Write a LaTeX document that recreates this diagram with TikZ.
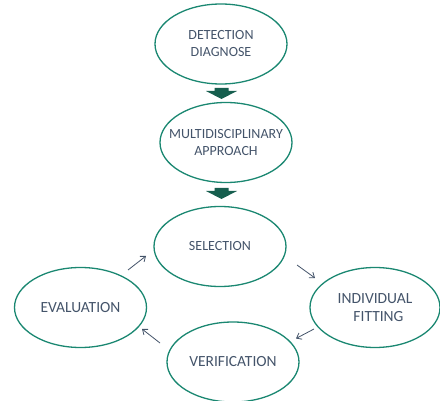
\documentclass[tikz,border=0pt]{standalone}
\usepackage{fontspec}
\setmainfont{Carlito}
\usetikzlibrary{shapes.geometric,arrows.meta,calc}
\definecolor{ringcol}{RGB}{26,135,113}
\definecolor{txtcol}{RGB}{68,84,106}
\definecolor{blockcol}{RGB}{22,94,78}
\tikzset{
  x=1pt,y=-1pt,
  stage/.style={ellipse,draw=ringcol,line width=1.3pt,inner xsep=-25pt,inner ysep=-10pt,
    minimum width=132pt,minimum height=80pt,text=txtcol,align=center,
    font=\fontsize{14}{17}\selectfont},
  bigtext/.style={font=\fontsize{15.5}{18.5}\selectfont},
  cyc/.style={draw=txtcol,line width=0.8pt,-{Straight Barb[length=4.5pt,width=7pt]}},
  blockarrow/.style={fill=blockcol}
}
\begin{document}
\begin{tikzpicture}
\useasboundingbox (0,0) rectangle (440,401);
\node[stage] (det) at (221,44) {DETECTION\\DIAGNOSE};
\node[stage] (multi) at (226,142.5) {MULTIDISCIPLINARY\\APPROACH};
\node[stage] (sel) at (220,246.5) {SELECTION};
\node[stage,bigtext] (eval) at (80.5,307.5) {EVALUATION};
\node[stage,bigtext,minimum width=130pt] (ind) at (375,307.5) {INDIVIDUAL\\\hspace*{7pt}FITTING};
\node[stage,bigtext] (ver) at (233,362) {VERIFICATION};
% block arrows
\coordinate (b1) at (221.5,88);
\coordinate (b2) at (221.5,188);
\foreach \b in {b1,b2}{
  \fill[blockarrow] ($(\b)+(-7,0)$) -- ($(\b)+(7,0)$) -- ($(\b)+(7,3)$) -- ($(\b)+(15.5,3)$)
    -- ($(\b)+(0,11)$) -- ($(\b)+(-15.5,3)$) -- ($(\b)+(-7,3)$) -- cycle;
}
% cycle arrows
\coordinate (c1s) at (128,270); \coordinate (c1e) at (146,256);
\coordinate (c2s) at (297,265); \coordinate (c2e) at (315,278);
\coordinate (c3s) at (314,329); \coordinate (c3e) at (296,338.5);
\coordinate (c4s) at (160,343); \coordinate (c4e) at (142,329);
\draw[cyc] (c1s) -- (c1e);
\draw[cyc] (c2s) -- (c2e);
\draw[cyc] (c3s) -- (c3e);
\draw[cyc] (c4s) -- (c4e);
\end{tikzpicture}
\end{document}
